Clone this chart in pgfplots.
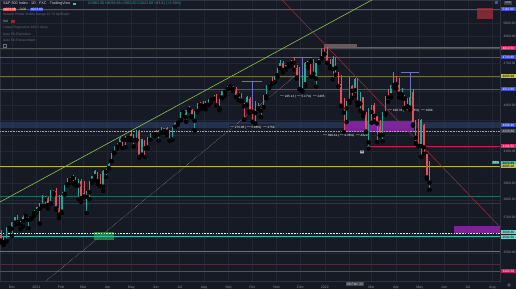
\documentclass[border=0pt]{standalone}
\usepackage{pgfplots}
\pgfplotsset{compat=1.18}
\usepackage{pgfplotstable}
\usepackage{fontspec}
\setmainfont{Liberation Sans}
\definecolor{bg}{HTML}{161A25}
\definecolor{gridc}{HTML}{222632}
\definecolor{axisc}{HTML}{2F3341}
\definecolor{tickc}{HTML}{8A8E99}
\definecolor{upc}{HTML}{26A69A}
\definecolor{dnc}{HTML}{E84E55}
\definecolor{blueL}{HTML}{3D4FD0}
\definecolor{pinkL}{HTML}{E91E63}
\definecolor{yelL}{HTML}{B8B53C}
\definecolor{oliveL}{HTML}{6F6B45}
\definecolor{tealL}{HTML}{1F6B62}
\definecolor{maroonL}{HTML}{4D2A3C}
\definecolor{cyanL}{HTML}{2EC4B6}
\definecolor{greenL}{HTML}{8BC34A}
\definecolor{redL}{HTML}{9C2F3E}
\definecolor{purpL}{HTML}{8E24AA}
\definecolor{bandL}{HTML}{2C4470}
\definecolor{greenR}{HTML}{2E9E3E}
\definecolor{redR}{HTML}{8A2C36}
\definecolor{labtxt}{HTML}{D1D4DC}
\definecolor{dimtxt}{HTML}{6A6E7A}
\newcommand\fs[1]{\fontsize{#1}{#1}\selectfont}
\newcommand\hl[3]{\draw[#1] (axis cs:#3,#2) -- (axis cs:617.72,#2);}
\newcommand\plab[4]{\node[fill=#1, text=#2, font=\fs{3.2}, inner sep=0pt, minimum width=14.4pt, minimum height=4.6pt, anchor=west, xshift=0.9pt] at (axis cs:617.72,#3) {#4};}

\pgfplotstableread{
d o h l c
-14 3600 3628 3557 3567
-10.5 3559 3585 3543 3557
-7 3566 3645 3562 3629
-3.5 3638 3644 3629 3638
0 3634 3670 3594 3669
3.5 3668 3699 3657 3699
7 3694 3712 3660 3672
10.5 3659 3678 3633 3663
14 3675 3711 3647 3701
17.5 3713 3726 3685 3709
21 3684 3703 3636 3690
24.5 3694 3703 3689 3703
28 3723 3740 3708 3732
31.5 3733 3760 3726 3756
35 3764 3784 3663 3748
38.5 3764 3826 3764 3824
42 3803 3823 3764 3809
45.5 3814 3815 3749 3768
49 3781 3859 3775 3851
52.5 3857 3861 3830 3841
56 3851 3870 3741 3750
59.5 3755 3830 3694 3714
63 3731 3847 3725 3831
66.5 3836 3889 3830 3886
70 3892 3931 3885 3916
73.5 3920 3935 3903 3934
77 3940 3950 3899 3931
80.5 3915 3939 3885 3906
84 3886 3928 3805 3925
87.5 3915 3925 3789 3811
91 3842 3914 3816 3820
94.5 3818 3851 3723 3842
98 3844 3911 3805 3898
101.5 3915 3944 3903 3943
105 3942 3983 3918 3974
108.5 3949 3971 3894 3913
112 3916 3955 3881 3881
115.5 3879 3978 3853 3974
119 3969 3994 3937 3973
122.5 3992 4021 3992 4020
126 4034 4084 4034 4080
129.5 4089 4129 4085 4129
133 4125 4148 4114 4125
136.5 4140 4191 4140 4185
140 4179 4180 4118 4173
143.5 4170 4194 4124 4180
147 4185 4194 4171 4183
150.5 4206 4219 4168 4181
154 4191 4210 4128 4167
157.5 4170 4238 4168 4232
161 4228 4237 4056 4063
164.5 4075 4175 4075 4174
168 4169 4172 4061 4116
171.5 4121 4188 4116 4156
175 4170 4214 4170 4195
178.5 4201 4218 4197 4204
182 4216 4234 4198 4208
185.5 4206 4233 4165 4230
189 4229 4255 4216 4220
192.5 4229 4249 4220 4247
196 4248 4256 4202 4224
199.5 4220 4233 4164 4166
203 4174 4256 4170 4242
206.5 4256 4286 4256 4281
210 4284 4300 4271 4298
213.5 4300 4355 4300 4352
217 4356 4372 4329 4358
220.5 4321 4372 4289 4370
224 4372 4393 4362 4375
227.5 4369 4376 4321 4327
231 4296 4359 4233 4358
234.5 4361 4415 4353 4411
238 4409 4422 4375 4401
241.5 4403 4430 4379 4395
245 4406 4429 4373 4402
248.5 4404 4441 4401 4437
252 4438 4449 4420 4447
255.5 4447 4469 4445 4468
259 4461 4481 4397 4400
262.5 4382 4444 4367 4442
266 4454 4496 4450 4496
269.5 4493 4513 4468 4509
273 4513 4537 4513 4524
276.5 4534 4545 4521 4535
280 4536 4536 4499 4514
283.5 4513 4530 4458 4458
287 4474 4492 4435 4480
290.5 4477 4485 4427 4432
294 4402 4416 4305 4395
297.5 4406 4465 4403 4455
301 4442 4457 4347 4359
304.5 4370 4382 4289 4357
308 4348 4429 4278 4363
311.5 4380 4416 4376 4391
315 4385 4397 4322 4364
318.5 4387 4475 4387 4471
322 4463 4539 4448 4537
325.5 4532 4559 4521 4545
329 4553 4598 4551 4551
332.5 4562 4608 4562 4605
336 4610 4663 4595 4660
339.5 4662 4718 4662 4697
343 4701 4714 4630 4646
346.5 4659 4688 4650 4683
350 4689 4702 4672 4689
353.5 4700 4718 4681 4698
357 4712 4743 4650 4701
360.5 4664 4686 4586 4595
364 4628 4672 4510 4513
367.5 4504 4608 4495 4538
371 4548 4705 4533 4701
374.5 4690 4713 4666 4712
378 4710 4716 4600 4709
381.5 4719 4731 4600 4621
385 4587 4697 4531 4697
388.5 4703 4741 4703 4726
392 4734 4808 4734 4793
395.5 4795 4809 4765 4766
399 4778 4818 4700 4701
402.5 4694 4726 4662 4677
406 4655 4749 4582 4726
409.5 4733 4744 4614 4663
413 4632 4632 4531 4533
416.5 4547 4612 4395 4398
420 4357 4454 4222 4350
423.5 4380 4432 4287 4432
427 4431 4595 4415 4590
430.5 4535 4539 4451 4501
434 4505 4590 4470 4587
437.5 4553 4588 4401 4419
441 4412 4490 4364 4475
444.5 4456 4456 4327 4349
448 4333 4356 4221 4225
451.5 4155 4385 4114 4385
455 4355 4401 4283 4387
458.5 4401 4417 4291 4329
462 4327 4330 4157 4278
465.5 4253 4303 4199 4204
469 4202 4358 4161 4357
472.5 4345 4465 4335 4463
476 4462 4513 4424 4456
479.5 4469 4546 4454 4543
483 4541 4637 4523 4603
486.5 4599 4603 4517 4546
490 4548 4593 4455 4481
493.5 4475 4521 4450 4488
497 4462 4471 4381 4447
500.5 4449 4453 4392 4392
504 4385 4513 4372 4459
507.5 4489 4513 4264 4272
511 4255 4299 4150 4184
514.5 4222 4308 4129 4132
518 4130 4308 4062 4300
521.5 4271 4276 4081 4123
525 4081 4081 3928 3935
528.5 3903 4039 3859 4024
}\candles

\begin{document}
\begin{tikzpicture}
\path[use as bounding box, fill=bg] (0pt,0pt) rectangle (516pt,289pt);
\begin{axis}[
  at={(0pt,8pt)}, anchor=south west,
  scale only axis, width=500pt, height=281pt,
  ymode=log,
  xmin=-15.19, xmax=617.72, ymin=3350.3, ymax=5182.8,
  clip=false,
  axis line style={draw=axisc, line width=0.5pt},
  major tick length=0pt, tick style={draw=none},
  grid=major, grid style={draw=gridc, line width=0.45pt},
  xtick={0,31,62,90,121,151,182,212,243,274,304,335,365,396,427,455,486,516,547,577,608},
  xticklabels={Dec,2021,Feb,Mar,Apr,May,Jun,Jul,Aug,Sep,Oct,Nov,Dec,2022,{},Mar,Apr,May,Jun,Jul,Aug},
  xticklabel style={font=\fs{3.6}, text=tickc, yshift=-1.5pt},
  ytick={3500,3700,3800,3900,4100,4400,4700,4900,5000},
  yticklabels={3500.00,3700.00,3800.00,3900.00,4100.00,4400.00,4700.00,4900.00,5000.00},
  extra y ticks={3400,3600,4000,4200,4300,4500,4600,4800,5100},
  extra y tick labels={},
  extra y tick style={grid=major, major grid style={draw=gridc, line width=0.45pt}},
  yticklabel pos=right,
  yticklabel style={font=\fs{3.3}, text=tickc, anchor=west},
]
% bands and boxes
\fill[bandL, opacity=0.55] (axis cs:-15.19,4248.6) rectangle (axis cs:617.72,4288.3);
\fill[purpL, opacity=0.85] (axis cs:420.3,4222.3) rectangle (axis cs:508.9,4295.0);
\fill[greenR, opacity=0.75] (axis cs:103.8,3570.3) rectangle (axis cs:129.1,3615.0);
\fill[purpL, opacity=0.85] (axis cs:559.5,3609.4) rectangle (axis cs:617.72,3648.8);
\fill[redR, opacity=0.9] (axis cs:588.6,5032.1) rectangle (axis cs:608.9,5118.8);
\fill[pink!60!gray, opacity=0.45] (axis cs:394.9,4818) rectangle (axis cs:436.7,4840.5);
% horizontal levels
\hl{blueL, line width=0.8pt}{5110.8}{-15.19}
\hl{gray!50!bg, line width=0.5pt}{4810.5}{-15.19}
\hl{pinkL, line width=0.9pt}{4810.5}{394.9}
\hl{blueL, line width=0.8pt}{4743.8}{-15.19}
\hl{oliveL, line width=0.6pt}{4605.9}{-15.19}
\hl{blueL, line width=0.8pt}{4513.8}{-15.19}
\hl{gray!70, line width=0.4pt, dash pattern=on 0.8pt off 0.8pt}{4228.8}{-15.19}
\hl{pinkL!85!black, line width=0.8pt}{4131.5}{449.4}
\hl{yelL, line width=0.6pt}{4005.1}{-15.19}
\hl{tealL, line width=0.6pt}{3822.8}{-15.19}
\hl{maroonL, line width=0.5pt}{3781.5}{-15.19}
\hl{white!85!gray, line width=0.9pt, dash pattern=on 1.6pt off 1.2pt}{3609.4}{-15.19}
\hl{cyanL, line width=0.8pt}{3592.6}{-15.19}
\hl{oliveL!80!green, line width=0.6pt}{3509.9}{-15.19}
\hl{maroonL, line width=0.5pt}{3439.7}{-15.19}
\hl{pinkL!85!black, line width=0.9pt}{3402.5}{-15.19}
% trend lines
\draw[greenL, line width=0.6pt] (axis cs:-15.19,3787.4) -- (axis cs:455.7,5182.8);
\draw[redL, line width=0.5pt] (axis cs:341.8,5182.8) -- (axis cs:617.72,3643.2);
\draw[gray!80, line width=0.4pt, dash pattern=on 0.6pt off 0.9pt] (axis cs:43,3350.3) -- (axis cs:364.6,4634.6);
% measurement tools
\draw[gray!60!blue!80!white, line width=0.4pt] (axis cs:291,4570.2) -- (axis cs:316,4570.2) (axis cs:303.8,4570.2) -- (axis cs:303.8,4295.0);
\draw[gray!60!blue!80!white, line width=0.4pt] (axis cs:356,4743.8) -- (axis cs:380,4743.8) (axis cs:367,4743.8) -- (axis cs:367,4499.8);
\draw[gray!60!blue!80!white, line width=0.4pt] (axis cs:492,4634.6) -- (axis cs:515,4634.6) (axis cs:503.8,4634.6) -- (axis cs:503.8,4409.9);
\node[font=\fs{3.1}, text=white, inner sep=0.4pt, fill=bg, fill opacity=0.6, text opacity=1] at (axis cs:303.8,4255.2) {$-$275.08 ($-$5.88\%) $-$2758};
\node[font=\fs{3.1}, text=white, inner sep=0.4pt] at (axis cs:367,4465.0) {$-$245.13 ($-$5.17\%) $-$2405};
\node[font=\fs{3.1}, text=white, inner sep=0.4pt] at (axis cs:421.5,4202.6) {$-$396.41 ($-$9.36\%) $-$4329};
\node[font=\fs{3.1}, text=white, inner sep=0.4pt] at (axis cs:503.8,4369.0) {$-$198.78 ($-$4.35\%) $-$1909};
\node[font=\fs{3}, text=bg, fill=gray!60, inner sep=0.5pt, rounded corners=0.3pt] at (axis cs:443,4093.1) {W};
% candles: wicks
\addplot[only marks, mark=none, forget plot,
  restrict expr to domain={\thisrow{c}-\thisrow{o}}{0:100000},
  error bars/.cd, y dir=plus, y explicit, error mark=none,
  error bar style={draw=upc, line width=0.45pt}]
  table[x=d, y=l, y error plus expr={\thisrow{h}-\thisrow{l}}] {\candles};
\addplot[only marks, mark=none, forget plot,
  restrict expr to domain={\thisrow{c}-\thisrow{o}}{-100000:-0.001},
  error bars/.cd, y dir=plus, y explicit, error mark=none,
  error bar style={draw=dnc, line width=0.45pt}]
  table[x=d, y=l, y error plus expr={\thisrow{h}-\thisrow{l}}] {\candles};
% candles: bodies
\addplot[only marks, mark=none, forget plot,
  restrict expr to domain={\thisrow{c}-\thisrow{o}}{0:100000},
  error bars/.cd, y dir=plus, y explicit, error mark=none,
  error bar style={draw=upc, line width=1.5pt}]
  table[x=d, y=o, y error plus expr={\thisrow{c}-\thisrow{o}}] {\candles};
\addplot[only marks, mark=none, forget plot,
  restrict expr to domain={\thisrow{c}-\thisrow{o}}{-100000:-0.001},
  error bars/.cd, y dir=plus, y explicit, error mark=none,
  error bar style={draw=dnc, line width=1.5pt}]
  table[x=d, y=c, y error plus expr={\thisrow{o}-\thisrow{c}}] {\candles};
% price axis labels
\plab{blueL}{white}{5110.8}{5110.80}
\plab{pinkL}{white}{4810.5}{4810.50}
\plab{blueL}{white}{4743.8}{4743.80}
\plab{yelL!90!white}{black}{4605.9}{4605.90}
\plab{blueL}{white}{4513.8}{4513.80}
\plab{blueL}{white}{4268.4}{4268.40}
\plab{gray!40!bg}{labtxt}{4228.8}{4228.80}
\plab{pinkL}{white}{4131.5}{4131.50}
\plab{cyanL}{black}{4023.89}{4023.89}
\node[fill=upc, text=white, font=\fs{3.0}, inner sep=0.5pt, anchor=east, xshift=-0.4pt] at (axis cs:617.72,4023.89) {SPX};
\plab{yelL!90!white}{black}{4005.1}{4005.10}
\node[fill=cyanL!70!white, text=black, font=\fs{3.2}, inner sep=0pt, minimum width=14.4pt, minimum height=4.6pt, anchor=south west, xshift=0.9pt] at (axis cs:617.72,3601) {3609.40};
\node[fill=cyanL!70!white, text=black, font=\fs{3.2}, inner sep=0pt, minimum width=14.4pt, minimum height=4.6pt, anchor=north west, xshift=0.9pt] at (axis cs:617.72,3601) {3592.60};
\plab{pinkL!85!black}{white}{3402.5}{3402.50}
% crosshair date
\node[fill=gray!45!bg, text=labtxt, font=\fs{3.4}, inner sep=0.8pt, anchor=north, yshift=-1.2pt] at (axis cs:434.2,3350.3) {08 Feb '22};
\end{axis}
% header legend
\node[anchor=west, inner sep=0pt, font=\fs{3.7}, text=labtxt] at (3pt,285pt) {S\&P 500 Index · 1D · FXC · TradingView};
\fill[cyanL] (73pt,283.6pt) rectangle (75.6pt,286.4pt);
\node[anchor=west, inner sep=0pt, font=\fs{3.6}, text=upc] at (88pt,285pt) {O3963.90 H4038.88 L3963.90 C4023.89 +93.81 (+2.39\%)};
\node[anchor=west, fill=dnc, text=white, font=\fs{3.3}, inner sep=0.6pt] at (3pt,279.6pt) {4023.89};
\node[anchor=west, text=labtxt, font=\fs{3.3}, inner sep=0.6pt] at (19pt,279.6pt) {0.00};
\node[anchor=west, fill=blueL, text=white, font=\fs{3.3}, inner sep=0.6pt] at (30pt,279.6pt) {4023.89};
\node[anchor=west, text=dimtxt, font=\fs{3.3}, inner sep=0pt] at (3pt,274pt) {Volume Profile Visible Range 24 70 Up/Down};
\node[anchor=west, text=labtxt, font=\fs{3.3}, inner sep=0pt] at (3pt,267.3pt) {Vol};
\fill[redR] (11pt,265.8pt) rectangle (15pt,268.8pt);
\node[anchor=west, text=dimtxt, font=\fs{3.3}, inner sep=0pt] at (3pt,261pt) {Linear Regression 100 2 close};
\node[anchor=west, text=dimtxt, font=\fs{3.3}, inner sep=0pt] at (3pt,255pt) {Auto Fib Extension};
\node[anchor=west, text=dimtxt, font=\fs{3.3}, inner sep=0pt] at (3pt,249pt) {Auto Fib Retracement};
\node[anchor=west, text=dimtxt, font=\fs{3.3}, inner sep=0.5pt, draw=dimtxt, line width=0.2pt] at (3pt,243.5pt) {\^{}};
% top right / bottom right small items
\node[fill=gray!35!bg, text=labtxt, font=\fs{2.8}, inner sep=0.6pt] at (508pt,286pt) {USD};
\fill[blueL] (495pt,285pt) rectangle (498pt,288pt);
\draw[tickc, line width=0.3pt] (509pt,4pt) circle (1.4pt);
\end{tikzpicture}
\end{document}
